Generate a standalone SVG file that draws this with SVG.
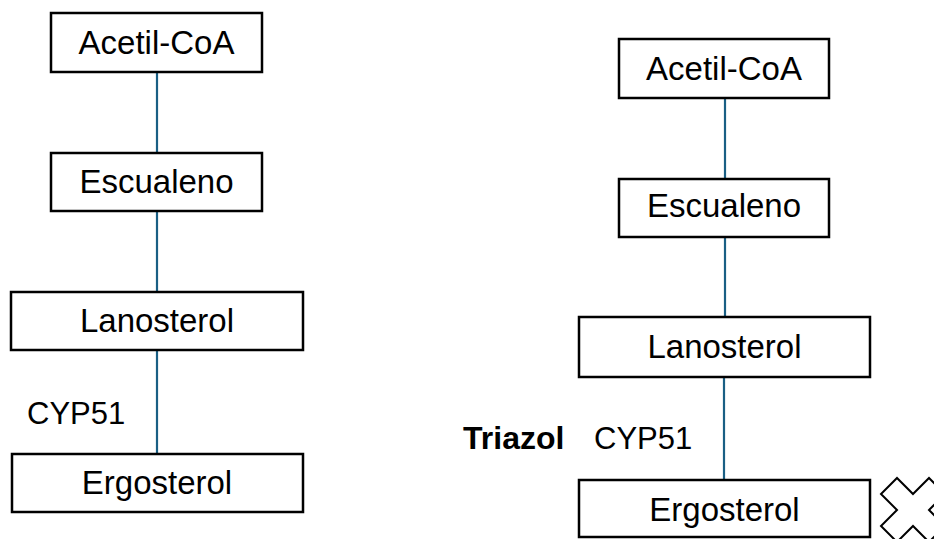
<svg xmlns="http://www.w3.org/2000/svg" width="934" height="539" viewBox="0 0 934 539">
<style>
.box{fill:#fff;stroke:#000;stroke-width:2.5}
.lbl{font-family:"Liberation Sans",Arial,sans-serif;font-size:33px;fill:#000;text-anchor:middle}
.t{font-family:"Liberation Sans",Arial,sans-serif;font-size:31px;fill:#000}
.b{font-weight:bold;font-size:32px}
.con{stroke:#1a5f84;stroke-width:2.2;fill:none}
</style>
<rect width="934" height="539" fill="#fff"/>
<g id="connectors">
<line class="con" x1="157" y1="72" x2="157" y2="153"/>
<line class="con" x1="157" y1="211" x2="157" y2="292"/>
<line class="con" x1="157" y1="350" x2="157" y2="454"/>
<line class="con" x1="725" y1="98" x2="725" y2="179"/>
<line class="con" x1="725" y1="237" x2="725" y2="317"/>
<line class="con" x1="724" y1="377" x2="724" y2="480"/>
</g>
<g id="l-acetil"><rect class="box" x="51" y="13" width="211" height="59"/><text class="lbl" x="156.5" y="54">Acetil-CoA</text></g>
<g id="l-escualeno"><rect class="box" x="51" y="153" width="211" height="58"/><text class="lbl" x="156.5" y="193">Escualeno</text></g>
<g id="l-lanosterol"><rect class="box" x="11" y="292" width="292" height="58"/><text class="lbl" x="157" y="332">Lanosterol</text></g>
<g id="l-ergosterol"><rect class="box" x="12" y="454" width="291" height="58"/><text class="lbl" x="157" y="494">Ergosterol</text></g>
<g id="l-cyp51"><text class="t" x="27" y="424">CYP51</text></g>
<g id="r-acetil"><rect class="box" x="619" y="39" width="210" height="59"/><text class="lbl" x="724" y="80">Acetil-CoA</text></g>
<g id="r-escualeno"><rect class="box" x="619" y="179" width="210" height="58"/><text class="lbl" x="724" y="217">Escualeno</text></g>
<g id="r-lanosterol"><rect class="box" x="579" y="317" width="291" height="60"/><text class="lbl" x="724.5" y="358">Lanosterol</text></g>
<g id="r-ergosterol"><rect class="box" x="579" y="480" width="291" height="57"/><text class="lbl" x="724.5" y="521">Ergosterol</text></g>
<g id="triazol"><text class="t b" x="463" y="449">Triazol</text></g>
<g id="r-cyp51"><text class="t" x="594" y="449">CYP51</text></g>
<g id="x-mark"><polygon transform="translate(913,510)" points="0,-16 16,-32 32,-16 16,0 32,16 16,32 0,16 -16,32 -32,16 -16,0 -32,-16 -16,-32" fill="#fff" stroke="#000" stroke-width="2"/></g>
</svg>
